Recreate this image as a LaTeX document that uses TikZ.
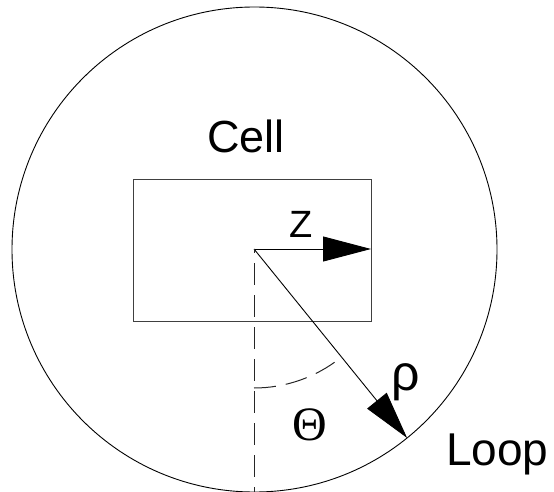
\documentclass[tikz,border=0pt]{standalone}
\usepackage{fontspec}
\setmainfont{Liberation Sans}
\newfontfamily\thetafont{Liberation Serif}
\usetikzlibrary{arrows.meta}
\begin{document}
\begin{tikzpicture}[x=1pt,y=1pt,
  thinline/.style={line width=0.9pt,black},
  boxstyle/.style={draw=black!75,line width=1pt,inner sep=0pt,outer sep=0pt,minimum width=238pt,minimum height=142pt},
  loopstyle/.style={draw=black,line width=0.9pt,circle,inner sep=0pt,outer sep=0pt,minimum size=485pt},
  bigarrow/.style={thinline,-{Triangle[length=48pt,width=25pt]}},
  dashline/.style={line width=1pt,black!85,dash pattern=on 22pt off 10pt},
  lbl/.style={inner sep=0pt,outer sep=0pt}
]
\useasboundingbox (0,0) rectangle (554,491);
\coordinate (O) at (254,242);
\node[loopstyle] (loopc) at (254.5,241.5) {};
\node[boxstyle] (cellbox) at (252,241) {};
\draw[bigarrow] (O) -- (cellbox.east |- O);
\draw[bigarrow] (O) -- (loopc.-51.7);
\draw[dashline,dash phase=18pt] (O) -- (O |- loopc.south);
\draw[dashline] ([shift={(-90:139)}]O) arc[start angle=-90,end angle=-51.7,radius=139];
\node[lbl,anchor=base west,font=\fontsize{45pt}{48pt}\selectfont] (celltxt) at (207,338) {Cell};
\node[lbl,anchor=base west,font=\fontsize{38pt}{42pt}\selectfont] (ztxt) at (289,254) {Z};
\node[lbl,anchor=base,font=\fontsize{50pt}{54pt}\selectfont] (rhotxt) at (406,101) {ρ};
\node[lbl,anchor=base,font=\thetafont\fontsize{48pt}{52pt}\selectfont] (thetatxt) at (310,51) {Θ};
\node[lbl,anchor=base west,font=\fontsize{46pt}{50pt}\selectfont] (looptxt) at (446,26) {Loop};
\end{tikzpicture}
\end{document}
